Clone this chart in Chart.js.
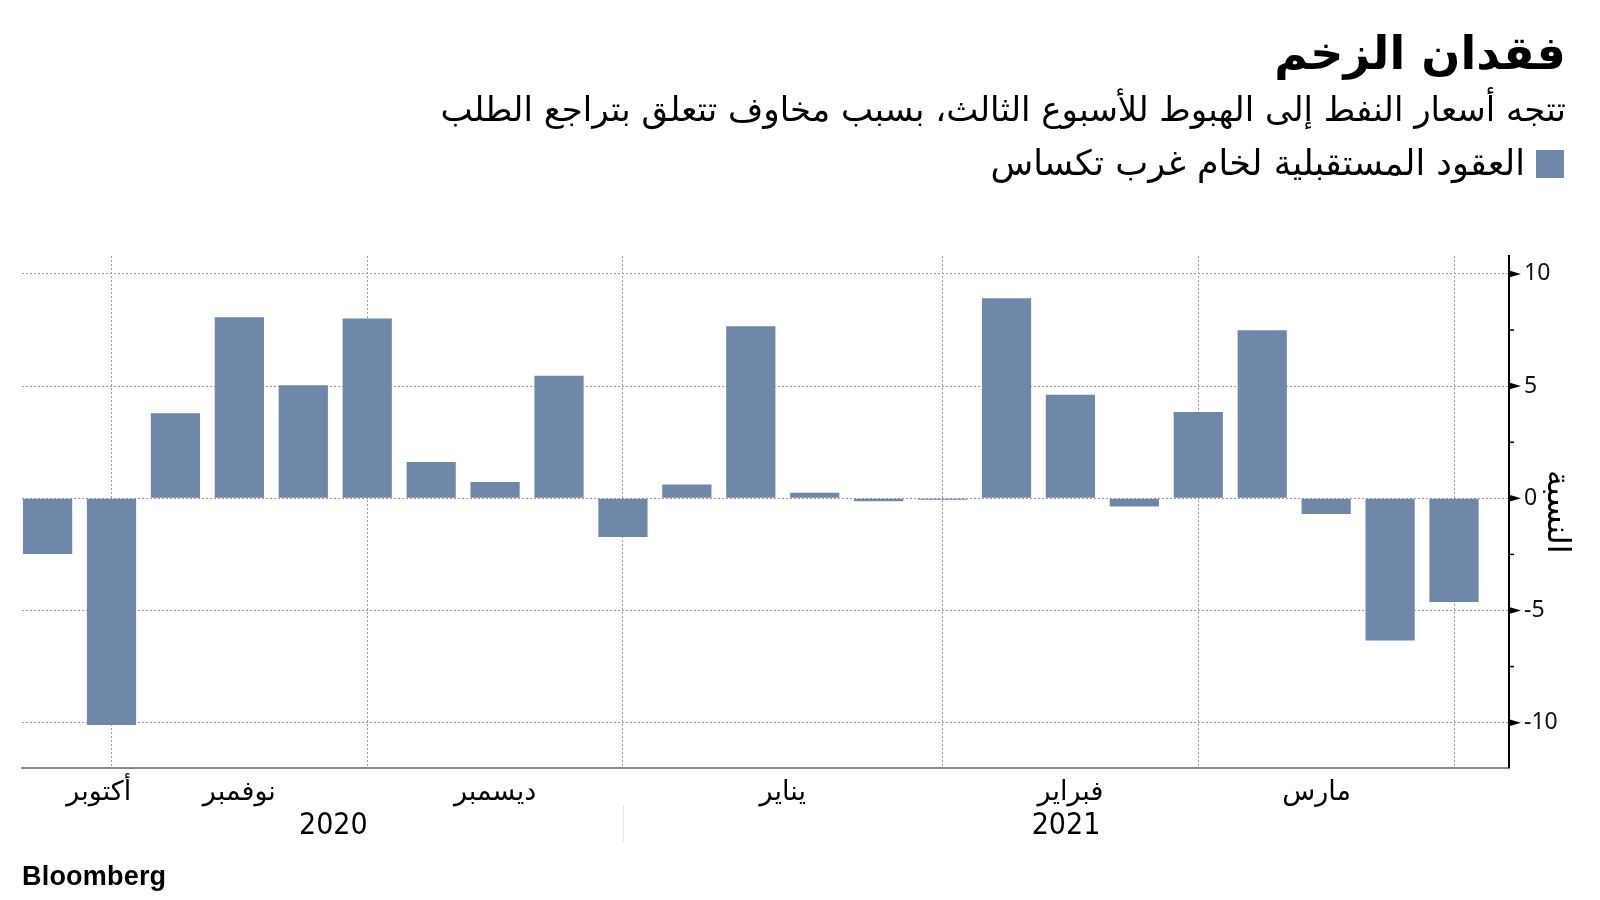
<!DOCTYPE html>
<html lang="ar">
<head>
    <meta charset="UTF-8">
    <title>فقدان الزخم</title>
    <script src="https://cdn.jsdelivr.net/npm/chart.js@4.4.1/dist/chart.umd.min.js"></script>
    <style>
        body {
            margin: 0;
            background: #ffffff;
        }
        #wrap {
            position: relative;
            width: 1600px;
            height: 900px;
            overflow: hidden;
        }
        #chart {
            position: absolute;
            left: 0;
            top: 0;
        }
        .txt {
            position: absolute;
            direction: rtl;
            white-space: nowrap;
            font-family: 'DejaVu Sans', sans-serif;
            color: #000;
            line-height: 1;
        }
        #title {
            right: 34px;
            top: 30px;
            font-size: 46px;
            font-weight: bold;
        }
        #subtitle {
            right: 34px;
            top: 92px;
            font-size: 34px;
        }
        #legend {
            right: 75px;
            top: 146px;
            font-size: 35px;
        }
        #legend-box {
            position: absolute;
            left: 1536px;
            top: 150px;
            width: 28px;
            height: 28px;
            background: #6f88aa;
        }
        #source {
            position: absolute;
            left: 22px;
            top: 861px;
            font-family: 'Liberation Sans', Arial, sans-serif;
            font-weight: bold;
            font-size: 27px;
            letter-spacing: 0.2px;
            color: #000;
        }
    </style>
</head>
<body>
<div id="wrap">
    <canvas id="chart" width="1600" height="900"></canvas>
    <div class="txt" id="title">فقدان الزخم</div>
    <div class="txt" id="subtitle">تتجه أسعار النفط إلى الهبوط للأسبوع الثالث، بسبب مخاوف تتعلق بتراجع الطلب</div>
    <div id="legend-box"></div>
    <div class="txt" id="legend">العقود المستقبلية لخام غرب تكساس</div>
    <div id="source">Bloomberg</div>
</div>
<script>
    // weekly change of WTI futures, percent
    var weeks = ['2020-10-23', '2020-10-30', '2020-11-06', '2020-11-13', '2020-11-20', '2020-11-27',
        '2020-12-04', '2020-12-11', '2020-12-18', '2020-12-24', '2020-12-31', '2021-01-08',
        '2021-01-15', '2021-01-22', '2021-01-29', '2021-02-05', '2021-02-12', '2021-02-19',
        '2021-02-26', '2021-03-05', '2021-03-12', '2021-03-19', '2021-03-26'];
    var changes = [-2.48, -10.1, 3.79, 8.07, 5.04, 8.01, 1.62, 0.73, 5.46, -1.72, 0.61, 7.67,
        0.25, -0.13, -0.07, 8.92, 4.61, -0.37, 3.85, 7.49, -0.70, -6.34, -4.62];

    // month separators and labels (positions in week index)
    var monthLines = [1, 5, 9, 14, 18, 22];
    var monthNames = ['أكتوبر', 'نوفمبر', 'ديسمبر', 'يناير', 'فبراير', 'مارس'];
    var monthPos = [0.8, 3, 7, 11.5, 16, 19.85];
    var yearNames = ['2020', '2021'];
    var yearPos = [4.47, 15.93];
    var yearSplit = 9;

    var yTicks = [-10, -7.5, -5, -2.5, 0, 2.5, 5, 7.5, 10];
    var yTitle = 'النسبة';

    var xMin = -0.4, xMax = 22.86;
    var barColor = '#6f88aa';
    var dotted = '#9c9c9c';

    // arrow ticks on the value axis and the year divider
    var axisMarks = {
        id: 'axisMarks',
        afterDraw: function(chart) {
            var ctx = chart.ctx;
            var ys = chart.scales.y;
            var xs = chart.scales.x;
            var yr = chart.scales.years;
            ctx.save();
            ctx.fillStyle = '#000';
            ctx.strokeStyle = '#000';
            ctx.lineWidth = 1.5;
            ys.ticks.forEach(function(t) {
                var py = ys.getPixelForValue(t.value);
                if (t.value % 5 === 0) {
                    ctx.beginPath();
                    ctx.moveTo(ys.left, py - 3.5);
                    ctx.lineTo(ys.left + 12, py);
                    ctx.lineTo(ys.left, py + 3.5);
                    ctx.closePath();
                    ctx.fill();
                } else {
                    ctx.beginPath();
                    ctx.moveTo(ys.left, py);
                    ctx.lineTo(ys.left + 5, py);
                    ctx.stroke();
                }
            });
            var px = Math.round(xs.getPixelForValue(yearSplit)) + 0.5;
            ctx.strokeStyle = '#e2e2e2';
            ctx.lineWidth = 1;
            ctx.beginPath();
            ctx.moveTo(px, yr.top - 2);
            ctx.lineTo(px, yr.top + 34);
            ctx.stroke();
            ctx.restore();
        }
    };

    function bottomAxis(weight, positions, names, height, pad, font) {
        return {
            type: 'linear',
            position: 'bottom',
            min: xMin,
            max: xMax,
            offset: false,
            weight: weight,
            afterBuildTicks: function(s) {
                s.ticks = positions.map(function(v) { return {value: v}; });
            },
            afterFit: function(s) { s.height = height; },
            grid: {display: false, offset: false},
            border: {display: false},
            ticks: {
                autoSkip: false,
                maxRotation: 0,
                padding: pad,
                color: '#000',
                font: font,
                callback: function(v, i) { return names[i]; }
            }
        };
    }

    var ctx = document.getElementById('chart').getContext('2d');
    var chart = new Chart(ctx, {
        type: 'bar',
        data: {
            labels: weeks,
            datasets: [{
                label: 'العقود المستقبلية لخام غرب تكساس',
                data: changes.map(function(v, i) { return {x: i, y: v}; }),
                backgroundColor: barColor,
                borderWidth: 0,
                categoryPercentage: 1,
                barPercentage: 0.77,
                xAxisID: 'x',
                yAxisID: 'y'
            }]
        },
        options: {
            responsive: false,
            animation: false,
            devicePixelRatio: 1,
            layout: {
                padding: {top: 256, left: 22, right: 0, bottom: 0}
            },
            plugins: {
                legend: {display: false},
                tooltip: {enabled: false}
            },
            scales: {
                x: {
                    type: 'linear',
                    position: 'bottom',
                    min: xMin,
                    max: xMax,
                    offset: false,
                    weight: 0,
                    afterBuildTicks: function(s) {
                        s.ticks = monthLines.map(function(v) { return {value: v}; });
                    },
                    afterFit: function(s) { s.height = 0; },
                    ticks: {display: false},
                    grid: {
                        offset: false,
                        color: dotted,
                        lineWidth: 1,
                        drawTicks: false
                    },
                    border: {color: '#8a8a8a', width: 2, dash: [2, 2]}
                },
                months: bottomAxis(1, monthPos, monthNames, 40, 1, {family: 'DejaVu Sans', size: 27}),
                years: bottomAxis(2, yearPos, yearNames, 92.5, -7,
                    {family: "'DejaVu Sans Condensed', 'Liberation Sans Narrow', sans-serif", size: 30}),
                y: {
                    type: 'linear',
                    position: 'right',
                    min: -12,
                    max: 10.8,
                    afterBuildTicks: function(s) {
                        s.ticks = yTicks.map(function(v) { return {value: v}; });
                    },
                    afterFit: function(s) { s.width = 91; },
                    grid: {
                        color: function(c) { return c.tick && c.tick.value % 5 === 0 ? dotted : 'rgba(0,0,0,0)'; },
                        lineWidth: 1,
                        drawTicks: true,
                        tickLength: 12,
                        tickColor: 'rgba(0,0,0,0)'
                    },
                    border: {color: '#000', width: 2, dash: [2, 2]},
                    ticks: {
                        padding: 3,
                        color: '#111',
                        font: {family: 'Noto Sans', size: 23},
                        callback: function(v) { return v % 5 === 0 ? String(v) : ''; }
                    },
                    title: {
                        display: true,
                        text: yTitle,
                        color: '#000',
                        font: {family: 'DejaVu Sans', size: 32},
                        padding: {top: 24, bottom: 0}
                    }
                }
            }
        },
        plugins: [axisMarks]
    });
</script>
</body>
</html>
